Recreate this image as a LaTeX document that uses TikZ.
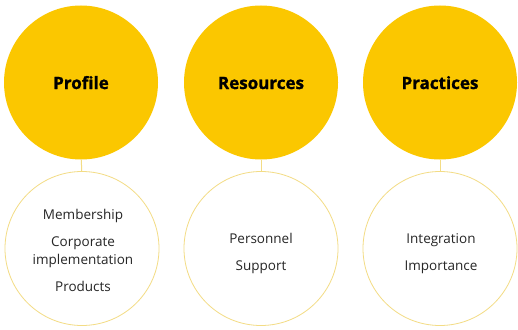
\documentclass[tikz,border=0pt]{standalone}
\usepackage{fontspec}
\setmainfont{Open Sans}
\newfontfamily\heavy[BoldFeatures={FakeBold=1.2}]{Open Sans}
\definecolor{gold}{HTML}{FBC700}
\definecolor{paleline}{HTML}{F3DC85}
\begin{document}
\begin{tikzpicture}[x=1pt,y=-1pt,
  topcircle/.style={circle,fill=gold,minimum size=154pt,inner sep=0pt},
  title/.style={font=\heavy\bfseries\fontsize{17}{20}\selectfont,text height=0.72em,text depth=0.22em,inner sep=0pt},
  botcircle/.style={circle,draw=paleline,line width=0.8pt,fill=white,minimum size=154pt,inner sep=0pt},
  item/.style={font=\fontsize{13.5}{18}\selectfont,align=center,text=black!85,inner sep=0pt},
  one/.style={text height=0.75em,text depth=0.25em},
  link/.style={draw=paleline,line width=1pt}]
\useasboundingbox[fill=white] (0,0) rectangle (518,329);
\node[topcircle] (t1) at (81,82.5) {};
\node[topcircle] (t2) at (261,82.5) {};
\node[topcircle] (t3) at (440,82.5) {};
\node[title] (l1) at (81,86.5) {Profile};
\node[title] (l2) at (261,86.5) {Resources};
\node[title] (l3) at (440,86.5) {Practices};
\node[botcircle] (b1) at (82,248.5) {};
\node[botcircle] (b2) at (261,248.5) {};
\node[botcircle] (b3) at (440,248.5) {};
\draw[link] (t1) -- (b1);
\draw[link] (t2) -- (b2);
\draw[link] (t3) -- (b3);
\node[item,one] (m1) at (83,217) {Membership};
\node[item] (m2) at (83,252.5) {Corporate\\implementation};
\node[item,one] (m3) at (83,289) {Products};
\node[item,one] (r1) at (261,240.5) {Personnel};
\node[item,one] (r2) at (261,267.5) {Support};
\node[item,one] (p1) at (441,241) {Integration};
\node[item,one] (p2) at (441,268) {Importance};
\end{tikzpicture}
\end{document}
